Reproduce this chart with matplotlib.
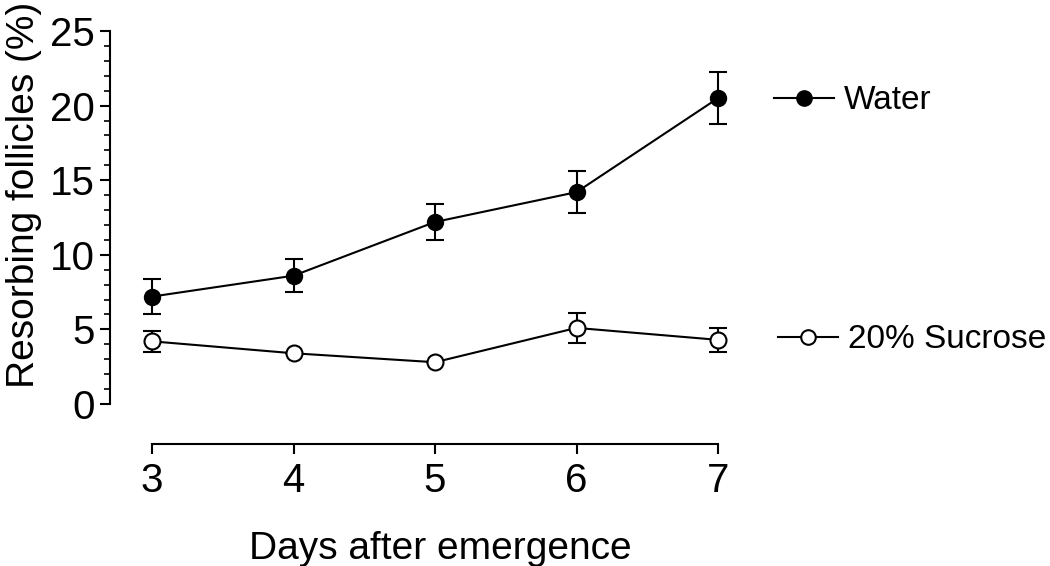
import matplotlib
matplotlib.use("Agg")
import matplotlib.pyplot as plt
from matplotlib.ticker import MultipleLocator
from matplotlib.lines import Line2D

plt.rcParams['font.family'] = ['Liberation Sans', 'DejaVu Sans']

days = [3, 4, 5, 6, 7]
water = [7.2, 8.6, 12.2, 14.2, 20.5]
water_err = [1.2, 1.1, 1.2, 1.4, 1.75]
sucrose = [4.2, 3.4, 2.8, 5.1, 4.3]
sucrose_err = [0.7, 0.0, 0.0, 1.0, 0.8]

fig = plt.figure(figsize=(10.5, 5.66), dpi=100)
W, H = 1050, 566
ax = fig.add_axes([152 / W, 1 - 404 / H, (718 - 152) / W, (404 - 31) / H])

LW = 1.5
common = dict(color='black', lw=LW, ms=11.5, capsize=6.5, elinewidth=LW,
              capthick=LW, clip_on=False, zorder=3)
ew = ax.errorbar(days, water, yerr=water_err, fmt='-o', mfc='black',
                 mec='black', **common)
es = ax.errorbar(days, sucrose, yerr=sucrose_err, fmt='-o', mfc='white',
                 mec='black', mew=LW, **common)
for e in (ew, es):
    for c in e[1]:
        c.set_clip_on(False)
    for b in e[2]:
        b.set_clip_on(False)

ax.set_xlim(3, 7)
ax.set_ylim(0, 25)
ax.set_xticks(days)
ax.yaxis.set_major_locator(MultipleLocator(5))
ax.yaxis.set_minor_locator(MultipleLocator(1))

for s in ('top', 'right'):
    ax.spines[s].set_visible(False)
ax.spines['left'].set_position(('outward', 30))
ax.spines['bottom'].set_position(('outward', 29))
ax.spines['left'].set_linewidth(LW)
ax.spines['bottom'].set_linewidth(LW)

ax.tick_params(axis='both', which='major', length=7, width=LW,
               labelsize=29, direction='out', pad=4)
ax.tick_params(axis='y', which='minor', length=4.5, width=1.2, direction='out')
ax.tick_params(axis='x', which='major', pad=6)

ax.set_xlabel('Days after emergence', fontsize=28)
ax.xaxis.set_label_coords(0.51, (404 - 531) / 373)
ax.set_ylabel('Resorbing follicles (%)', fontsize=28)
ax.yaxis.set_label_coords((42 - 152) / 566, (404 - 195) / 373)

h_w = Line2D([], [], color='black', lw=LW, marker='o', ms=11, mfc='black', mec='black')
h_s = Line2D([], [], color='black', lw=LW, marker='o', ms=10.5, mfc='white', mec='black', mew=LW)
kw = dict(loc='center left', frameon=False, fontsize=24, handlelength=1.8,
          handletextpad=0.3, borderpad=0, borderaxespad=0)
fig.legend([h_w], ['Water'], bbox_to_anchor=(774 / W, 1 - 101 / H), **kw)
fig.legend([h_s], ['20% Sucrose'], bbox_to_anchor=(778 / W, 1 - 340 / H), **kw)

fig.savefig('out.png', dpi=100)
